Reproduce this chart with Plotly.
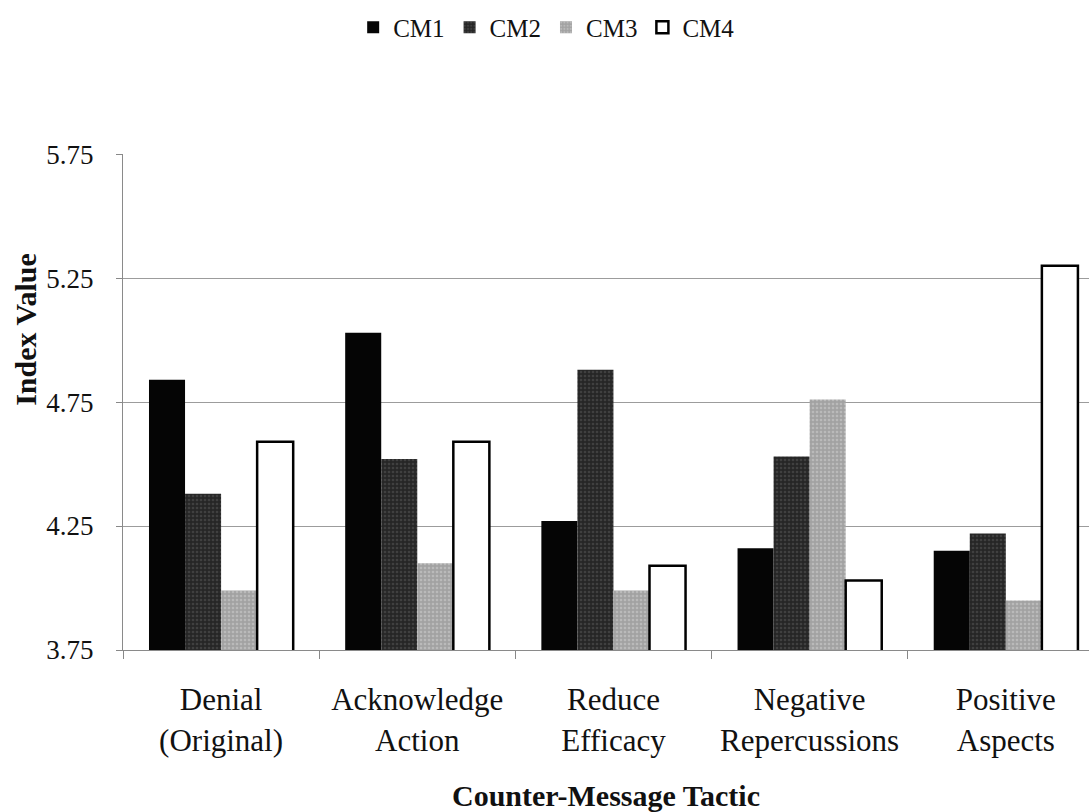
import plotly.graph_objects as go

# Counter-message tactics (x categories) and index values per counter-message
tactics = [
    "Denial<br>(Original)",
    "Acknowledge<br>Action",
    "Reduce<br>Efficacy",
    "Negative<br>Repercussions",
    "Positive<br>Aspects",
]
series_names = ["CM1", "CM2", "CM3", "CM4"]
cm1 = [4.84, 5.03, 4.27, 4.16, 4.15]
cm2 = [4.38, 4.52, 4.88, 4.53, 4.22]
cm3 = [3.99, 4.10, 3.99, 4.76, 3.95]
cm4 = [4.59, 4.59, 4.09, 4.03, 5.30]
y_ticks = [3.75, 4.25, 4.75, 5.25, 5.75]

series_values = [cm1, cm2, cm3, cm4]
fills = ["#050505", "#2f2f2f", "#aeaeae", "#ffffff"]
outlines = ["#050505", "#2f2f2f", "#aeaeae", "#000000"]
outline_w = [0, 0, 0, 2.5]
# fine dot screens give the print-like halftone on the grey series
patterns = [
    None,
    dict(shape=".", fgcolor="#5a5a5a", bgcolor="#262626", size=4, solidity=0.35),
    dict(shape=".", fgcolor="#d2d2d2", bgcolor="#a2a2a2", size=4, solidity=0.35),
    None,
]

SERIF = "Liberation Serif, Times New Roman, serif"

fig = go.Figure()
for name, vals, fc, lc, lw, pat in zip(series_names, series_values, fills,
                                       outlines, outline_w, patterns):
    marker = dict(color=fc, line=dict(color=lc, width=lw))
    if pat is not None:
        marker["pattern"] = pat
    fig.add_trace(go.Bar(name=name, x=tactics, y=vals, marker=marker))

fig.update_layout(
    width=1089,
    height=812,
    margin=dict(l=123, r=0, t=154, b=162),
    paper_bgcolor="white",
    plot_bgcolor="white",
    barmode="group",
    bargap=0.265,
    bargroupgap=0,
    showlegend=True,
    legend=dict(
        orientation="h",
        xref="container", yref="container",
        x=0.502, y=0.966,
        xanchor="center", yanchor="middle",
        font=dict(family=SERIF, size=25, color="#111"),
        itemwidth=30,
        tracegroupgap=0,
    ),
    font=dict(family=SERIF, color="#111"),
)

fig.update_xaxes(
    type="category",
    range=[-0.5, 4.424],
    tickson="boundaries",
    ticks="outside",
    ticklen=8,
    tickcolor="#888",
    showline=True,
    linecolor="#8a8a8a",
    linewidth=1,
    showgrid=False,
    tickfont=dict(family=SERIF, size=31, color="#111"),
    ticklabelstandoff=22,
)
fig.update_yaxes(
    range=[3.75, 5.7505],
    tickvals=y_ticks,
    ticktext=[f"{v:.2f}" for v in y_ticks],
    ticks="outside",
    ticklen=6,
    tickcolor="#888",
    showline=True,
    linecolor="#8a8a8a",
    linewidth=1,
    showgrid=True,
    gridcolor="#9c9c9c",
    gridwidth=1,
    zeroline=False,
    tickfont=dict(family=SERIF, size=27, color="#111"),
    ticklabelstandoff=17,
)

fig.add_annotation(
    text="<b>Index Value</b>",
    xref="paper", yref="paper",
    x=-0.1004, y=0.6455,
    xanchor="center", yanchor="middle",
    textangle=-90,
    showarrow=False,
    font=dict(family=SERIF, size=30, color="#111"),
)
fig.add_annotation(
    text="<b>Counter-Message Tactic</b>",
    xref="paper", yref="paper",
    x=(605.5 - 123) / 966, y=(650.5 - 796) / 496.5,
    xanchor="center", yanchor="middle",
    showarrow=False,
    font=dict(family=SERIF, size=30, color="#111"),
)

fig.write_html("out.html")
